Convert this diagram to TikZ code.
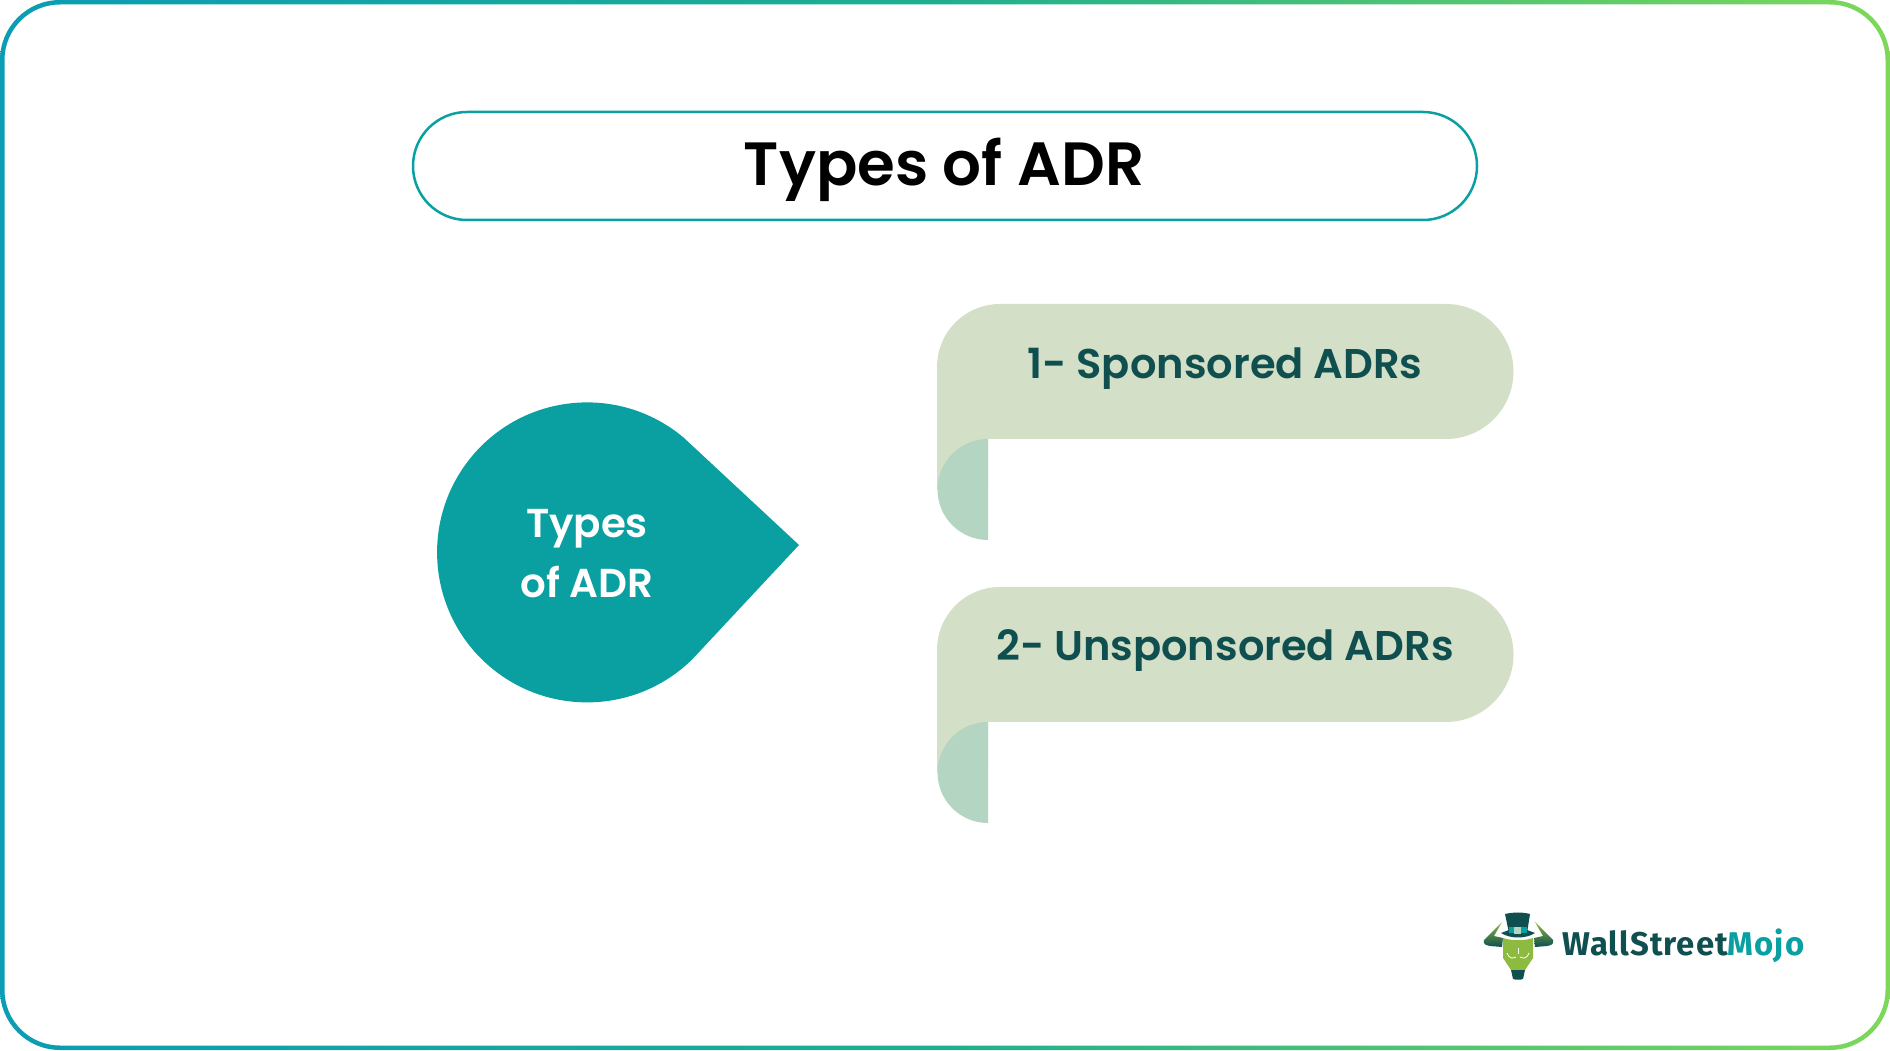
\documentclass[tikz,border=0pt]{standalone}
\usepackage{fontspec}
\setmainfont{Poppins}
\newfontfamily\semifont{Poppins SemiBold}
\newfontfamily\logofont[LetterSpace=3]{Fira Sans}
\usetikzlibrary{positioning}
\definecolor{tealfill}{HTML}{0A9FA0}
\definecolor{tealdark}{HTML}{0F4F50}
\definecolor{ribbonpale}{HTML}{D3DFC6}
\definecolor{ribbonfold}{HTML}{B5D5C3}
\definecolor{frameleft}{HTML}{0A9DB4}
\definecolor{framemid}{HTML}{1FAF8F}
\definecolor{frameright}{HTML}{7DD85A}
\definecolor{logogreen}{HTML}{8DBB3F}
\tikzset{
  ribbontext/.style={text=tealdark,font=\fontsize{41.7}{41.7}\semifont,anchor=center},
  droptext/.style={text=white,font=\fontsize{40.5}{40.5}\semifont,anchor=center},
  titletext/.style={text=black,font=\fontsize{61.3}{61.3}\semifont,anchor=center},
  logotext/.style={font=\fontsize{33}{33}\logofont\bfseries,anchor=base west,inner sep=0pt},
}
\begin{document}
\begin{tikzpicture}[x=1bp,y=1bp,line join=round]
\useasboundingbox (0,0) rectangle (1890,1050);
%% frame
\path[even odd rule,left color=frameleft,right color=frameright,middle color=framemid]
  (0,60) -- (0,990) arc (180:90:60) -- (1830,1050) arc (90:0:60) -- (1890,60) arc (0:-90:60) -- (60,0) arc (-90:-180:60) -- cycle
  (4.5,60) -- (4.5,990) arc (180:90:55.5) -- (1830,1045.5) arc (90:0:55.5) -- (1885.5,60) arc (0:-90:55.5) -- (60,4.5) arc (-90:-180:55.5) -- cycle;
%% title
\draw[tealfill,line width=2.5bp] (467,830) arc (270:90:54) -- (1423,938) arc (90:-90:54) -- cycle;
\node[titletext] (title) at (944,880.5) {Types of ADR};
%% drop
\fill[tealfill] (799,505) -- (683.5,612.5) arc (50:314.5:150) -- cycle;
\node[droptext] (dropa) at (587,521.5) {Types};
\node[droptext] (dropb) at (587,468) {of ADR};
%% first ribbon
\fill[ribbonpale] (937,560) -- (937,683) arc (180:90:63) -- (1446,746) arc (90:-90:67.5) -- (988,611) -- (988,560) -- cycle;
\fill[ribbonfold] (988,611) arc (90:270:50.5) -- cycle;
\node[ribbontext] (sponsored) at (1225,681) {1- Sponsored ADRs};
%% second ribbon
\fill[ribbonpale] (937,277) -- (937,400) arc (180:90:63) -- (1446,463) arc (90:-90:67.5) -- (988,328) -- (988,277) -- cycle;
\fill[ribbonfold] (988,328) arc (90:270:50.5) -- cycle;
\node[ribbontext] (unsponsored) at (1225,399) {2- Unsponsored ADRs};
%% logo
\shade[top color=logogreen,bottom color=tealdark] (1502,128) -- (1484,110) .. controls (1483,106) and (1485,105) .. (1490,104) -- (1502,103) -- (1503,112) -- (1494,114) -- cycle;
\shade[top color=logogreen,bottom color=tealdark] (1535,128) -- (1553,110) .. controls (1554,106) and (1552,105) .. (1547,104) -- (1535,103) -- (1534,112) -- (1543,114) -- cycle;
\fill[tealdark] (1505,136) .. controls (1514,138) and (1522,138) .. (1530,136) -- (1527,117) -- (1509,117) -- cycle;
\fill[tealdark] (1501,117) .. controls (1510,111) and (1526,111) .. (1535,117) -- (1527,120) -- (1509,120) -- cycle;
\fill[tealfill] (1509,117) rectangle (1527,123);
\fill[ribbonfold] (1514,116) rectangle (1521,123);
\fill[logogreen] (1503,112) .. controls (1512,109) and (1524,109) .. (1533,112) -- (1533,92) -- (1525,80) -- (1511,80) -- (1503,92) -- cycle;
\fill[tealdark] (1511,80) -- (1525,80) -- (1523,71) .. controls (1520,70) and (1516,70) .. (1513,71) -- cycle;
\draw[white,line width=0.8bp] (1518,102) -- (1518,96);
\draw[white,line width=0.8bp] (1507,97) .. controls (1510,90) and (1513,92) .. (1516,93);
\draw[white,line width=0.8bp] (1529,97) .. controls (1526,90) and (1523,92) .. (1520,93);
\node[logotext] (logo) at (1562,95) {\textcolor{tealdark}{WallStreet}\textcolor{tealfill}{Mojo}};
%
\end{tikzpicture}
\end{document}
